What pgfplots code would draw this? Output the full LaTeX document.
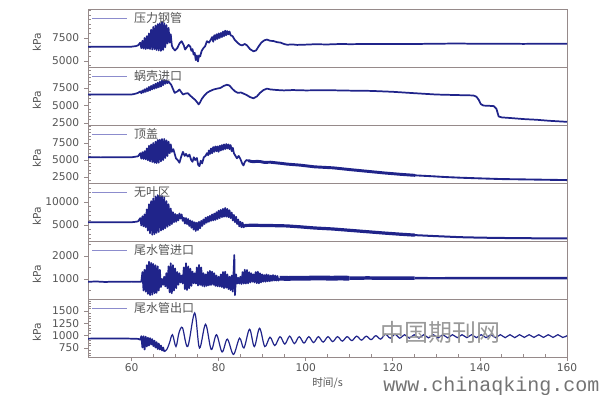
\documentclass[border=0pt]{standalone}
\usepackage{fontspec}
\setmainfont{DejaVu Sans}
\newfontfamily\cjk{Noto Sans CJK SC}
\newfontfamily\mono{Liberation Mono}
\usepackage{pgfplots}
\pgfplotsset{compat=1.18}
\definecolor{navy}{RGB}{32,36,138}
\definecolor{legc}{RGB}{140,140,205}
\definecolor{textc}{RGB}{85,85,85}
\definecolor{framec}{RGB}{150,138,138}
\pgfplotsset{
  panel/.style={
    scale only axis, width=359.25pt, height=43.5pt,
    xmin=50, xmax=160, anchor=south west,
    axis line style={framec, line width=0.6pt},
    tick style={framec, line width=0.5pt},
    tick align=outside, major tick length=3pt, minor tick length=2pt,
    minor y tick style={xshift=2pt}, minor x tick style={yshift=2pt},
    ytick pos=left, xtick pos=bottom,
    scaled y ticks=false, scaled x ticks=false,
    /pgf/number format/assume math mode=true,
    /pgf/number format/1000 sep={},
    yticklabel style={font=\fontsize{8}{8}\selectfont, text=textc},
    xticklabel style={font=\fontsize{8}{8}\selectfont, text=textc, inner ysep=1.5pt},
    ylabel={kPa},
    ylabel style={at={(axis description cs:-0.1065,0.42)}, anchor=center, font=\fontsize{8}{8}\selectfont, text=textc},
    legend style={at={(0.008,0.985)}, anchor=north west, draw=none, fill=none,
      font=\cjk\fontsize{9}{9}\selectfont, text=textc, inner sep=0pt},
    legend image code/.code={\draw[#1] (0pt,0pt) -- (26pt,0pt); \path (29pt,0pt);},
    xtick=\empty,
  },
  sig/.style={navy, line width=1.3pt, line join=round, forget plot},
}
\begin{document}
\begin{tikzpicture}
\path[use as bounding box] (0,0) rectangle (453.75pt,295.5pt);
% ---------- Panel 1
\begin{axis}[panel, at={(66pt,245.25pt)}, ymin=4350, ymax=10650,
  ytick={5000,7500}, minor ytick={4500,5500,6000,6500,7000,8000,8500,9000,9500,10000,10500}]
\addplot[sig] coordinates {
(50,6550)(52,6540)(54,6560)(56,6550)(58,6560)(60,6560)(61,6620)(61.5,6700)
(62,7000)(62.25,6400)(62.5,7200)(62.75,6350)(63,7500)(63.25,6300)(63.5,7700)(63.75,6350)
(64,8000)(64.25,6300)(64.5,8400)(64.75,6250)(65,8700)(65.25,6300)(65.5,8850)(65.75,6200)
(66,9000)(66.25,6150)(66.5,9100)(66.75,6100)(67,9250)(67.25,6200)(67.5,9100)(67.75,6500)
(68,8900)(68.25,6900)(68.5,8600)(68.75,7000)(69,7900)(69.25,6700)
(69.5,6400)(70,6150)(70.5,6400)(71,6900)(71.5,7150)(72,6700)(72.3,6250)(72.7,6500)(73.1,6750)
(73.5,6550)(73.75,6100)(74,6300)(74.25,5700)(74.5,5900)(74.75,5100)(75,5600)(75.25,4950)(75.5,5600)(75.75,5500)
(76.1,6100)(76.5,6400)(76.9,6600)(77.3,7150)(77.8,7000)(78.3,7400)
(78.5,7600)(78.75,7100)(79,7800)(79.25,7300)(79.5,7900)(79.75,7400)(80,8000)(80.25,7500)
(80.5,8050)(80.75,7600)(81,8200)(81.25,7700)(81.5,8300)(81.75,7800)(82,8250)(82.25,7900)(82.5,8200)(82.75,7800)
(83.2,7700)(83.7,7300)(84.3,7000)(84.9,6770)(85.4,6700)(86,6850)(86.5,6700)(87.2,6300)(88,6050)(88.6,6150)
(89.2,6600)(89.8,7000)(90.5,7250)(91.1,7330)(91.8,7200)(92.6,7170)(93.4,7050)(94.2,7000)(95,6850)(95.7,6770)
(97,6800)(98,6750)(100,6780)(102,6820)(105,6800)(108,6850)(110,6830)(115,6850)(120,6860)(125,6850)
(130,6880)(135,6900)(140,6870)(145,6880)(150,6860)(155,6880)(160,6870)
};
\addlegendimage{legc, line width=0.6pt}
\addlegendentry{压力钢管}
\end{axis}
% ---------- Panel 2
\begin{axis}[panel, at={(66pt,201.75pt)}, ymin=2200, ymax=10500,
  ytick={2500,5000,7500}, minor ytick={3000,3500,4000,4500,5500,6000,6500,7000,8000,8500,9000,9500,10000}]
\addplot[sig] coordinates {
(50,6570)(53,6560)(56,6580)(60,6570)(60.5,6620)(61,6700)(61.5,6800)
(62,7000)(62.25,6750)(62.5,7150)(62.75,6850)(63,7300)(63.25,6950)(63.5,7450)(63.75,7050)
(64,7650)(64.25,7150)(64.5,7800)(64.75,7300)(65,7950)(65.25,7400)(65.5,8100)(65.75,7500)
(66,8250)(66.25,7600)(66.5,8400)(66.75,7700)(67,8550)(67.25,7900)(67.5,8650)(67.75,8100)
(68,8600)(68.25,8200)(68.5,8400)
(69.1,7960)(69.9,6800)(70.5,7000)(71,7270)(71.8,6570)(72.4,6700)(72.9,6750)(73.5,6400)(74,6110)
(74.6,5800)(75.1,5420)(75.4,5150)(75.7,5400)(76.1,5900)(76.7,6400)(77.3,6800)(78,7050)(78.8,7270)
(79.6,7400)(80.4,7500)(81.2,7800)(81.9,7960)(82.5,7850)(83.1,7400)(83.7,7040)(84.4,6800)(85.1,6850)
(85.7,6700)(86.4,6500)(87.2,6200)(88,6020)(88.8,6300)(89.5,6800)(90.3,7200)(91.1,7410)(91.8,7300)
(92.6,7250)(93.5,7200)(95,7150)(97,7200)(100,7150)(105,7180)(110,7120)(115,7080)(120,6950)
(125,6750)(130,6560)(135,6480)(138.5,6430)(139.2,6250)(139.7,5830)(140.2,5200)(140.8,4980)
(142,4950)(143.2,4900)(143.8,4500)(144.3,3430)(145,3290)(147,3200)(150,3050)(153,2950)(156,2800)
(159.3,2680)(160,2670)
};
\addlegendimage{legc, line width=0.6pt}
\addlegendentry{蜗壳进口}
\end{axis}
% ---------- Panel 3
\begin{axis}[panel, at={(66pt,158.25pt)}, ymin=1620, ymax=10150,
  ytick={2500,5000,7500}, minor ytick={2000,3000,3500,4000,4500,5500,6000,6500,7000,8000,8500,9000,9500,10000}]
\addplot[sig] coordinates {
(50,5400)(53,5390)(56,5410)(60,5400)(60.5,5450)(61,5500)(61.5,5550)
(62,6000)(62.25,5200)(62.5,6150)(62.75,5150)(63,6300)(63.25,5100)(63.5,6700)(63.75,4950)
(64,7100)(64.25,4800)(64.5,7300)(64.75,4700)(65,7500)(65.25,4600)(65.5,7700)(65.75,4550)
(66,7950)(66.25,4600)(66.5,8000)(66.75,4800)(67,8100)(67.25,5000)(67.5,8100)(67.75,5300)
(68,7900)(68.25,5600)(68.5,7700)(68.75,6000)(69,7300)(69.25,6200)
(69.6,6600)(70.2,5250)(70.6,5000)(71,4600)(71.4,5500)(71.8,6200)(72.2,5600)(72.5,5900)(72.9,5500)
(73.3,5800)(73.7,5000)(74,4750)(74.3,5400)(74.6,5000)(75,5300)(75.3,4300)(75.6,4100)(75.9,4900)
(76.2,4500)(76.6,5400)(77,5600)(77.3,6000)(77.6,5700)
(77.75,6400)(78,5900)(78.25,6700)(78.5,6000)(78.75,6900)(79,6200)(79.25,7000)(79.5,6300)
(79.75,7000)(80,6200)(80.25,7100)(80.5,6400)(80.75,7200)(81,6500)(81.25,7300)(81.5,6600)
(81.75,7350)(82,6700)(82.25,7300)(82.5,6600)(82.75,7200)(83,6300)(83.25,6800)(83.5,6000)
(84.2,5250)(84.6,5600)(85,5150)(85.4,4500)(85.7,4200)(86,4700)(86.4,5000)(86.9,4900)
};
\addplot[navy, line width=2.2pt, line cap=round, forget plot] coordinates {
(86.9,4900)(87.4,4800)(88,4750)(88.7,4800)(89.5,4780)(90.5,4650)(91.9,4680)(93,4600)(94.5,4500)
(95.7,4400)(98.7,4250)(102,4000)(106.3,3850)(110,3600)(114,3350)(118,3100)(121.7,2900)(125,2750)
};
\addplot[navy, line width=1.4pt, forget plot] coordinates {
(125,2750)(129.4,2600)(132,2500)(135.5,2400)(140,2300)(145,2200)(150,2150)(155,2100)(160,2050)
};
\addlegendimage{legc, line width=0.6pt}
\addlegendentry{顶盖}
\end{axis}
% ---------- Panel 4
\begin{axis}[panel, at={(66pt,114.75pt)}, ymin=1520, ymax=14130,
  ytick={5000,10000}, minor ytick={2000,3000,4000,6000,7000,8000,9000,11000,12000,13000,14000}]
\addplot[sig] coordinates {
(50,5600)(53,5580)(56,5610)(60,5600)(60.5,5650)(61,5700)(61.5,5800)
(62,6500)(62.25,4900)(62.5,6900)(62.75,4700)(63,7300)(63.25,4500)(63.5,8400)(63.75,3800)
(64,9500)(64.25,3200)(64.5,10200)(64.75,2900)(65,10800)(65.25,3000)(65.5,11200)(65.75,3300)
(66,11500)(66.25,3500)(66.5,11400)(66.75,3800)(67,11300)(67.25,4000)(67.5,11000)(67.75,4300)
(68,10200)(68.25,4600)(68.5,9500)(68.75,4900)(69,8600)(69.25,5200)(69.5,7800)
(69.75,5600)(70,7400)(70.25,5700)(70.5,7200)(70.75,6000)(71,7500)(71.25,6400)(71.5,7300)
(71.75,5900)(72,6600)(72.25,5300)(72.5,6500)(72.75,5200)(73,6300)(73.25,4800)(73.5,6000)
(73.75,4400)(74,5800)(74.25,4000)(74.5,5600)(74.75,3700)(75,5500)(75.25,3900)(75.5,5700)
(75.75,4300)(76,5900)(76.25,4800)(76.5,6200)(76.75,5200)(77,6600)(77.25,5500)(77.5,6800)
(77.75,5700)(78,7000)(78.25,5900)(78.5,7300)(78.75,6000)(79,7500)(79.25,6100)(79.5,7800)
(79.75,6300)(80,8100)(80.25,6500)(80.5,8300)(80.75,6700)(81,8500)(81.25,6800)(81.5,8700)
(81.75,6800)(82,8500)(82.25,6700)(82.5,8200)(82.75,6500)(83,7700)(83.25,6000)(83.5,7200)
(83.75,5600)(84,6800)(84.25,5200)(84.5,6200)(84.75,4700)(85,5700)(85.25,4500)(85.5,5500)(85.75,4500)(86,4900)
};
\addplot[navy, line width=2.4pt, line cap=round, forget plot] coordinates {
(86,4900)(88,4950)(90,4900)(92,4880)(95.7,4800)(98.7,4600)(102,4350)(106.3,4130)(110,3850)
(114,3550)(118,3250)(121.7,3000)(125,2800)
};
\addplot[navy, line width=1.5pt, forget plot] coordinates {
(125,2800)(129.4,2600)(135.5,2350)(140,2250)(145,2180)(150,2130)(155,2100)(160,2080)
};
\addlegendimage{legc, line width=0.6pt}
\addlegendentry{无叶区}
\end{axis}
% ---------- Panel 5
\begin{axis}[panel, at={(66pt,71.25pt)}, ymin=130, ymax=2650,
  ytick={1000,2000}, minor ytick={500,1500,2500}]
\addplot[sig] coordinates {
(50,880)(52,890)(54,870)(56,885)(58,875)(60,885)(62,880)(62.25,880)
(62.5,1300)(62.75,500)(63,1400)(63.25,450)(63.5,1600)(63.75,350)(64,1750)(64.25,300)
(64.5,1700)(64.75,320)(65,1650)(65.25,380)(65.5,1600)(65.75,400)(66,1550)(66.25,500)
(66.5,1400)(66.75,650)(67,1000)(67.25,750)(67.5,1100)(67.75,680)(68,1250)(68.25,600)
(68.5,1550)(68.75,420)(69,1680)(69.25,380)(69.5,1600)(69.75,500)(70,1460)(70.25,600)
(70.5,1300)(70.75,750)(71,1250)(71.25,850)(71.5,1150)(71.75,800)(72,1500)(72.25,560)
(72.5,1680)(72.75,520)(73,1550)(73.25,600)(73.5,1450)(73.75,700)(74,1320)(74.25,810)
(74.5,1250)(74.75,800)(75,1500)(75.25,720)(75.5,1610)(75.75,740)(76,1500)(76.25,700)
(76.5,1250)(76.75,670)(77,1200)(77.25,700)(77.5,1300)(77.75,720)(78,1350)(78.25,740)
(78.5,1320)(78.75,750)(79,1250)(79.25,700)(79.5,1150)(79.75,680)(80,1100)(80.25,670)
(80.5,1200)(80.75,650)(81,1300)(81.25,600)(81.5,1320)(81.75,620)(82,1200)(82.25,560)
(82.5,1100)(82.75,520)(83,1150)(83.25,450)(83.5,1600)(83.6,2040)(83.75,300)(84,1200)
(84.25,800)(84.5,1050)(84.75,800)(85,1100)(85.25,780)(85.5,1300)(85.75,800)(86,1400)
(86.25,800)(86.5,1390)(86.75,810)(87,1300)(87.25,850)(87.5,1250)(87.75,880)(88,1200)
(88.25,850)(88.5,1300)(88.75,820)(89,1320)(89.25,810)(89.5,1250)(89.75,850)(90,1200)
(90.25,880)(90.5,1170)(90.75,880)(91,1200)(91.25,900)(91.5,1170)(91.75,900)(92,1150)
(92.25,920)(92.5,1170)(92.75,930)(93,1150)(93.25,930)(93.5,1130)(93.75,930)(94,1030)
};
\addplot[navy, line width=3.6pt, forget plot] coordinates {
(94,1030)(96,1025)(98,1035)(100,1030)(102,1045)(104,1040)(106,1035)(108,1040)(110,1035)
};
\addplot[navy, line width=2.6pt, forget plot] coordinates {
(110,1035)(112,1035)(114,1045)(116,1040)(118,1040)(120,1040)(122,1040)(125,1040)
};
\addplot[navy, line width=1.8pt, forget plot] coordinates {
(125,1040)(130,1030)(135,1040)(140,1035)(145,1040)(150,1035)(155,1040)(160,1035)
};
\addlegendimage{legc, line width=0.6pt}
\addlegendentry{尾水管进口}
\end{axis}
% ---------- Panel 6
\begin{axis}[panel, at={(66pt,27.75pt)}, ymin=568, ymax=1743,
  ytick={750,1000,1250,1500},
  minor ytick={600,650,700,800,850,900,950,1050,1100,1150,1200,1300,1350,1400,1450,1550,1600,1650,1700},
  xtick={60,80,100,120,140,160}, minor x tick num=3,
  xlabel={时间/s},
  xlabel style={font=\cjk\fontsize{8}{8}\selectfont, text=textc, yshift=0.5pt}]
\addplot[sig] coordinates {
(50,940)(55,945)(60,940)(61.5,935)(62,920)
(62.25,990)(62.5,760)(62.75,990)(63,720)(63.25,980)(63.5,780)(63.75,960)(64,800)
(64.25,950)(64.5,820)(64.75,930)(65,790)(65.25,900)(65.5,760)(65.75,870)(66,730)
(66.25,840)(66.5,720)(66.75,800)(67,700)(67.25,760)(67.5,680)
};
\addplot[navy, line width=0.9pt, smooth, tension=0.55, forget plot] coordinates {
(67.5,680)(68.1,720)(68.7,850)(69.4,1020)(70.2,780)(70.9,1060)(71.7,1160)(72.9,780)(74.5,1460)
(75.6,750)(77,1230)(78.3,720)(79.5,1020)(80.8,670)(82,930)(83.4,620)(84.8,950)(85.8,750)
(87.1,1130)(88.2,780)(89.4,1150)(90.6,780)(91.8,970)(92.9,800)(94.1,980)(95.2,830)(96.3,990)
(97.4,840)(98.5,980)(99.6,850)(100.7,980)(101.8,860)(102.9,980)(104,870)(105.1,980)(106.2,880)
(107.3,980)(108.4,890)(109.5,980)(110.6,900)(111.7,990)(112.8,910)(113.9,990)(115,920)
(116.1,1000)(117.2,930)(118.3,1030)(119.4,950)(120.5,1030)(121.6,950)(122.7,1020)(123.8,950)
(124.9,1020)(126,950)(127.1,1020)(128.2,955)(129.3,1020)(130.4,955)(131.5,1020)(132.6,955)
(133.7,1020)(134.8,960)(135.9,1020)(137,960)(138.1,1020)(139.2,960)(140.3,1020)(141.4,960)
(142.5,1020)(143.6,960)(144.7,1020)(145.8,960)(146.9,1020)(148,960)(149.1,1020)(150.2,965)
(151.3,1020)(152.4,965)(153.5,1020)(154.6,965)(155.7,1020)(156.8,965)(157.9,1020)(159,965)(160,1000)
};
\addlegendimage{legc, line width=0.6pt}
\addlegendentry{尾水管出口}
\end{axis}
% watermark
\node[text=black!40, font=\cjk\fontsize{18}{18}\selectfont] at (330pt,46.5pt) {中国期刊网};
\node[text=black!55, font=\mono\fontsize{15}{15}\selectfont, anchor=base, inner sep=0pt] at (368.6pt,1.8pt) {www.chinaqking.com};
\end{tikzpicture}
\end{document}
